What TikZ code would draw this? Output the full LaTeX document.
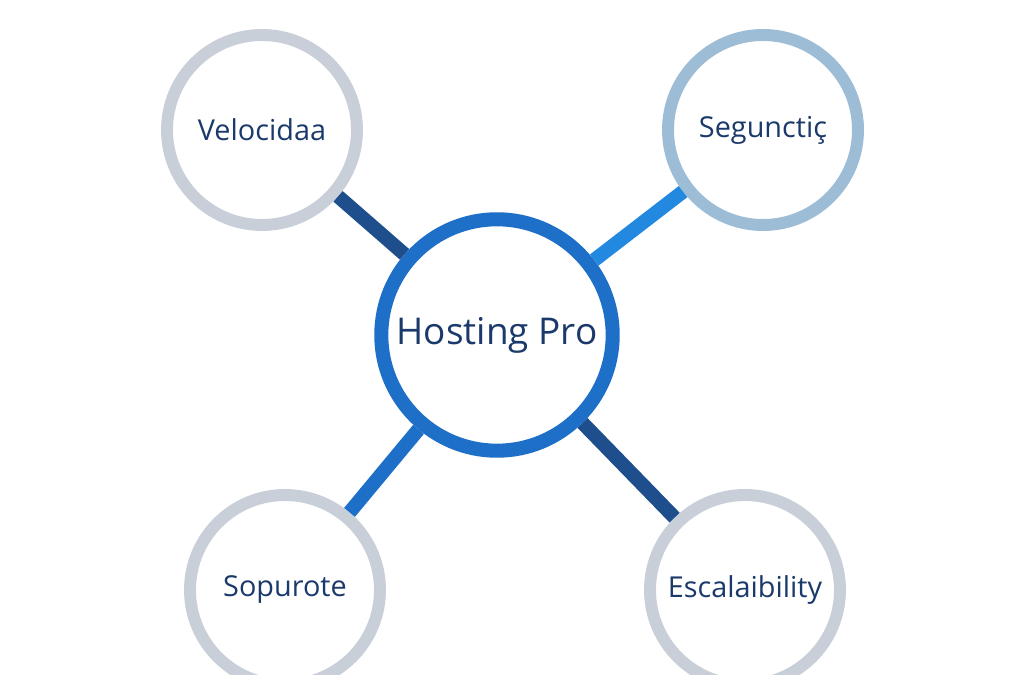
\documentclass[tikz,border=0pt]{standalone}
\usepackage{fontspec}
\setmainfont{Open Sans}
\usetikzlibrary{positioning}
\definecolor{navy}{HTML}{1B3A6B}
\definecolor{darkblue}{HTML}{1F4E8C}
\definecolor{midblue}{HTML}{1E6FC8}
\definecolor{brightblue}{HTML}{2288E0}
\definecolor{ringgray}{HTML}{C9CFD8}
\definecolor{ringblue}{HTML}{9DBCD6}
\tikzstyle{hub} = [circle, minimum size=2.14cm, draw=midblue, line width=4pt, fill=white, text=navy, font=\fontsize{10.5}{12}\selectfont]
\tikzstyle{topic} = [circle, minimum size=1.9cm, draw=ringgray, line width=3.4pt, fill=white, text=navy, font=\fontsize{8.2}{10}\selectfont]
\tikzstyle{link} = [line width=4pt]
\begin{document}
\begin{tikzpicture}
\useasboundingbox (0,0) rectangle (10.24,6.75);
\node (hub) [hub] at (4.97,3.40) {Hosting Pro};
\node (speed) [topic] at (2.62,5.45) {Velocidaa};
\node (secure) [topic, draw=ringblue] at (7.63,5.45) {Seguncti\c{c}};
\node (support) [topic] at (2.85,0.85) {Sopurote};
\node (scale) [topic] at (7.45,0.85) {Escalaibility};
\draw[link, darkblue] (hub) -- (speed);
\draw[link, brightblue] (hub) -- (secure);
\draw[link, midblue] (hub) -- (support);
\draw[link, darkblue] (hub) -- (scale);
\end{tikzpicture}
\end{document}
